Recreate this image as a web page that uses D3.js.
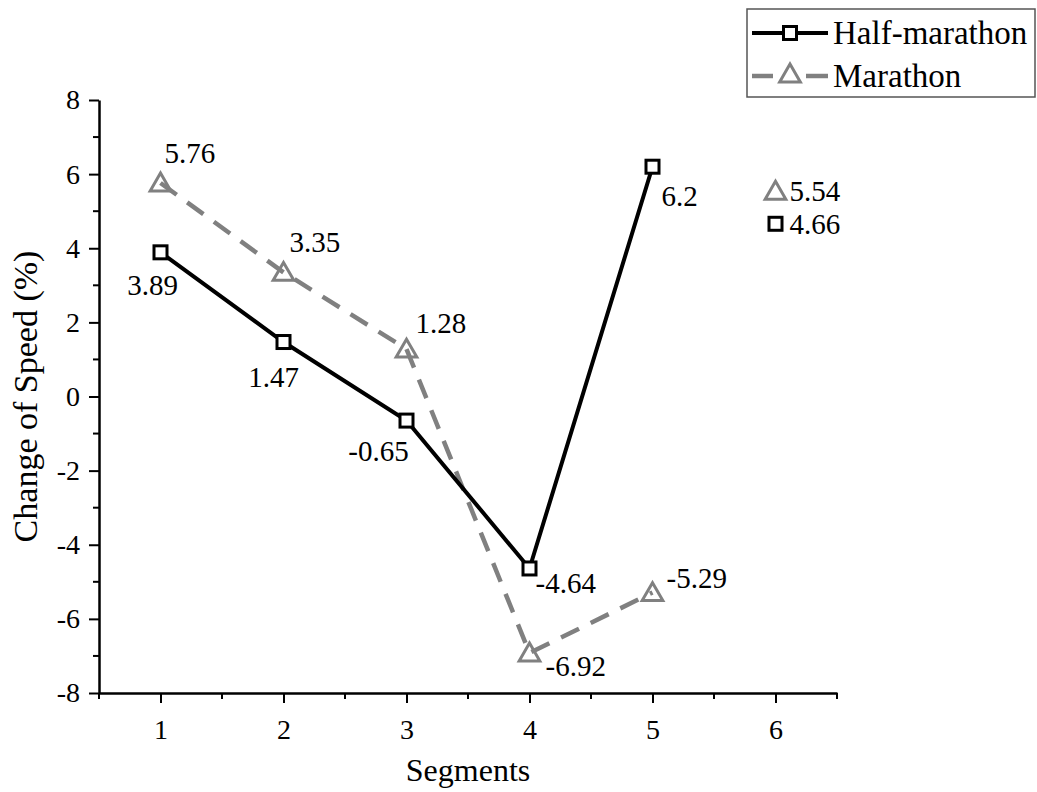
<!DOCTYPE html>
<html>
<head>
<meta charset="utf-8">
<script src="https://cdn.jsdelivr.net/npm/d3@7"></script>
<style>
  body { margin: 0; background: #fff; }
</style>
</head>
<body>
<script>
const W = 1037, H = 792;
const FONT = "Liberation Serif";
const margin = { left: 99, top: 100 };

const segments = [1, 2, 3, 4, 5];
const halfMarathon = [3.89, 1.47, -0.65, -4.64, 6.2];
const marathon = [5.76, 3.35, 1.28, -6.92, -5.29];
// lone markers drawn at segment 6
const extraSeg = 6;
const halfExtra = 4.66;
const marathonExtra = 5.54;

const xTicks = [1, 2, 3, 4, 5, 6];
const yTicks = [-8, -6, -4, -2, 0, 2, 4, 6, 8];

// label offsets (px) from each point
const halfLabelOff = [[-8, 43, "middle"], [-10, 45, "middle"], [-28, 40, "middle"], [6, 25, "start"], [9, 39, "start"]];
const marLabelOff = [[4, -20, "start"], [6, -20, "start"], [9, -16, "start"], [16, 23, "start"], [14, -5, "start"]];

const svg = d3.select("body").append("svg").attr("width", W).attr("height", H);

const x = d3.scaleLinear().domain([0.5, 6.5]).range([margin.left, 837]);
const y = d3.scaleLinear().domain([-8, 8]).range([693, margin.top]);

const gray = "#808080";

// axes
const xAxis = svg.append("g").attr("transform", `translate(0,${y(-8)})`)
  .call(d3.axisBottom(x).tickValues(xTicks).tickFormat(d => d).tickSize(10).tickPadding(16).tickSizeOuter(0));
const yAxis = svg.append("g").attr("transform", `translate(${x(0.5)},0)`)
  .call(d3.axisLeft(y).tickValues(yTicks).tickFormat(d => d).tickSize(10).tickPadding(9).tickSizeOuter(0));

[xAxis, yAxis].forEach(g => {
  g.attr("font-family", FONT).attr("font-size", 28);
  g.select(".domain").attr("stroke", "#000").attr("stroke-width", 2.5);
  g.selectAll(".tick line").attr("stroke", "#000").attr("stroke-width", 2);
  g.selectAll(".tick text").attr("fill", "#000");
});

// minor ticks
svg.append("g").selectAll("line")
  .data(d3.range(0.5, 6.6, 1))
  .join("line")
  .attr("x1", d => x(d)).attr("x2", d => x(d))
  .attr("y1", y(-8)).attr("y2", y(-8) + 6)
  .attr("stroke", "#000").attr("stroke-width", 2);
svg.append("g").selectAll("line")
  .data(d3.range(-7, 8, 2))
  .join("line")
  .attr("x1", x(0.5)).attr("x2", x(0.5) - 6)
  .attr("y1", d => y(d)).attr("y2", d => y(d))
  .attr("stroke", "#000").attr("stroke-width", 2);

function txt(g, xx, yy, s, size, anchor) {
  return g.append("text").attr("x", xx).attr("y", yy)
    .attr("text-anchor", anchor || "start")
    .attr("font-family", FONT).attr("font-size", size)
    .attr("fill", "#000").text(s);
}

// axis titles
txt(svg, (x(0.5) + x(6.5)) / 2, 781, "Segments", 32, "middle");
txt(svg, 0, 0, "Change of Speed (%)", 34, "middle")
  .attr("transform", `translate(37,${(y(-8) + y(8)) / 2}) rotate(-90)`);

const line = d3.line().x((d, i) => x(segments[i])).y(d => y(d));

// marathon dashed line
svg.append("path").datum(marathon).attr("d", line)
  .attr("fill", "none").attr("stroke", gray).attr("stroke-width", 4.5)
  .attr("stroke-dasharray", "20 13");
// half-marathon line
svg.append("path").datum(halfMarathon).attr("d", line)
  .attr("fill", "none").attr("stroke", "#000").attr("stroke-width", 4);

const tri = d3.symbol().type(d3.symbolTriangle).size(185);

function triangle(g, cx, cy) {
  g.append("path").attr("d", tri()).attr("transform", `translate(${cx},${cy + 2})`)
    .attr("fill", "none").attr("stroke", gray).attr("stroke-width", 3);
}
function square(g, cx, cy) {
  g.append("rect").attr("x", cx - 6.5).attr("y", cy - 6.5).attr("width", 13).attr("height", 13)
    .attr("fill", "#fff").attr("stroke", "#000").attr("stroke-width", 3);
}

const marks = svg.append("g");
marathon.forEach((v, i) => triangle(marks, x(segments[i]), y(v)));
halfMarathon.forEach((v, i) => square(marks, x(segments[i]), y(v)));
triangle(marks, x(extraSeg), y(marathonExtra));
square(marks, x(extraSeg), y(halfExtra));

// data labels
const labels = svg.append("g");
marathon.forEach((v, i) => {
  const o = marLabelOff[i];
  txt(labels, x(segments[i]) + o[0], y(v) + o[1], v, 29, o[2]);
});
halfMarathon.forEach((v, i) => {
  const o = halfLabelOff[i];
  txt(labels, x(segments[i]) + o[0], y(v) + o[1], v, 29, o[2]);
});
txt(labels, x(extraSeg) + 14, y(marathonExtra) + 10, marathonExtra, 29);
txt(labels, x(extraSeg) + 14, y(halfExtra) + 10, halfExtra, 29);

// legend
const lg = svg.append("g");
lg.append("rect").attr("x", 747).attr("y", 9).attr("width", 288).attr("height", 88)
  .attr("fill", "#fff").attr("stroke", "#555").attr("stroke-width", 1.5);
lg.append("line").attr("x1", 752).attr("x2", 828).attr("y1", 33).attr("y2", 33)
  .attr("stroke", "#000").attr("stroke-width", 4);
square(lg, 790, 33);
lg.append("line").attr("x1", 752).attr("x2", 773).attr("y1", 76).attr("y2", 76)
  .attr("stroke", gray).attr("stroke-width", 4.5);
lg.append("line").attr("x1", 806).attr("x2", 828).attr("y1", 76).attr("y2", 76)
  .attr("stroke", gray).attr("stroke-width", 4.5);
triangle(lg, 790, 74);
txt(lg, 833, 44, "Half-marathon", 33);
txt(lg, 833, 87, "Marathon", 33);
</script>
</body>
</html>
